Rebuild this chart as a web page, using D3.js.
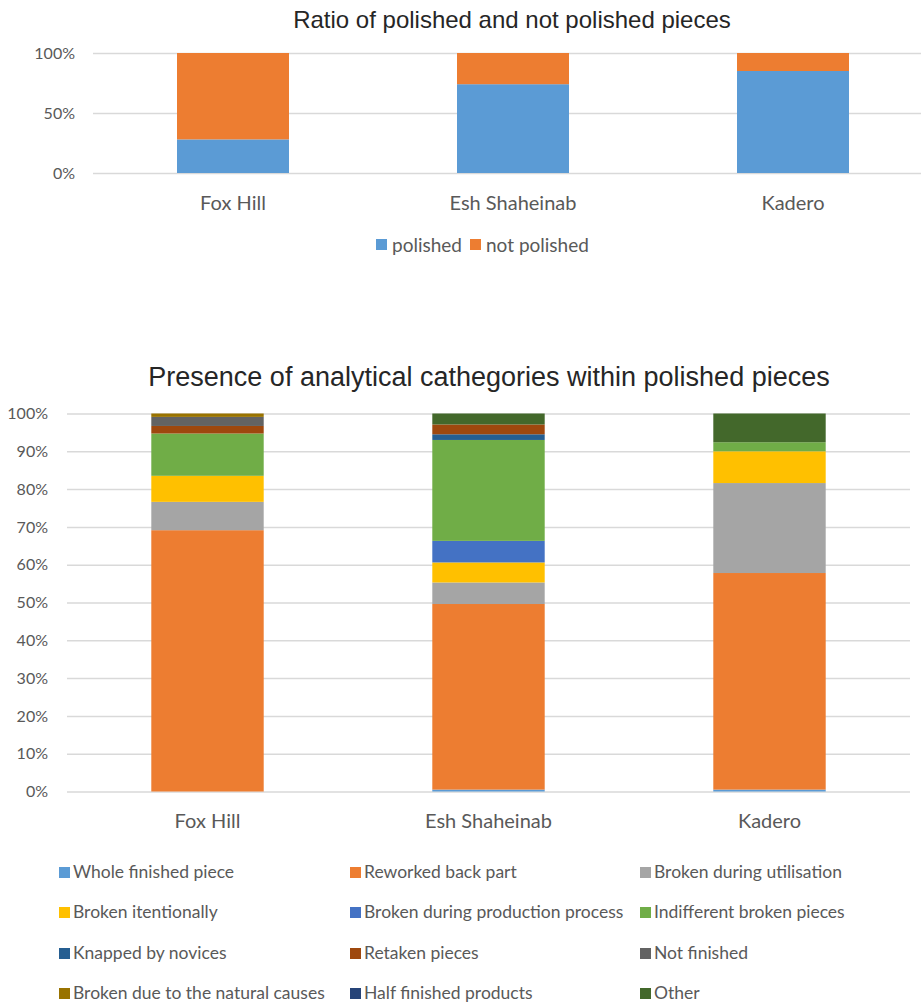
<!DOCTYPE html>
<html>
<head>
<meta charset="utf-8">
<script src="https://cdn.jsdelivr.net/npm/d3@7"></script>
<style>
  body { margin: 0; background: #fff; }
  .tick text { font-family: Lato, "Liberation Sans", sans-serif; fill: #595959; }
  .grid line { stroke: #d9d9d9; stroke-width: 1.5; }
</style>
</head>
<body>
<script>
// Sites shown in both charts
const sites = ["Fox Hill", "Esh Shaheinab", "Kadero"];

// Top chart: share of polished / not polished (%)
const polished = [28, 74, 85];
const notPolished = [72, 26, 15];
const topSeries = ["polished", "not polished"];
const topColors = ["#5b9bd5", "#ed7d31"];

// Bottom chart: analytical categories within polished pieces (%)
const categories = [
  "Whole finished piece", "Reworked back part", "Broken during utilisation",
  "Broken itentionally", "Broken during production process", "Indifferent broken pieces",
  "Knapped by novices", "Retaken pieces", "Not finished",
  "Broken due to the natural causes", "Half finished products", "Other"
];
const categoryColors = [
  "#5b9bd5", "#ed7d31", "#a5a5a5",
  "#ffc000", "#4472c4", "#70ad47",
  "#255e91", "#9e480e", "#636363",
  "#997300", "#264478", "#43682b"
];
const foxHill = [0, 69.2, 7.5, 6.9, 0, 11.2, 0, 2.0, 2.4, 0.9, 0, 0];
const eshShaheinab = [0.5, 49.1, 5.7, 5.3, 5.7, 26.7, 1.5, 2.6, 0, 0, 0, 2.9];
const kadero = [0.5, 57.3, 23.8, 8.4, 0, 2.4, 0, 0, 0, 0, 0, 7.6];

const topTicks = [0, 0.5, 1];
const bottomTicks = d3.range(0, 1.01, 0.1);

const width = 921;
const height = 1003;

const svg = d3.select("body")
  .append("svg")
    .attr("width", width)
    .attr("height", height);

function stackedChart(opts) {
  const g = svg.append("g");

  const x = d3.scaleBand()
    .domain(sites)
    .range([opts.left, opts.right]);

  const y = d3.scaleLinear()
    .domain([0, 1])
    .range([opts.bottom, opts.top]);

  // Title
  g.append("text")
    .attr("x", opts.titleX)
    .attr("y", opts.titleY)
    .attr("text-anchor", "middle")
    .style("font-family", "'Liberation Sans', Arial, sans-serif")
    .style("font-size", opts.titleSize + "px")
    .style("fill", "#262626")
    .text(opts.title);

  // Gridlines + percent labels
  g.append("g")
    .attr("class", "grid")
    .attr("transform", `translate(${opts.left},0)`)
    .call(d3.axisLeft(y)
      .tickValues(opts.ticks)
      .tickFormat(d3.format(".0%"))
      .tickSize(-(opts.right - opts.left))
      .tickPadding(opts.tickPad))
    .call(a => a.select(".domain").remove())
    .call(a => a.selectAll("text").style("font-size", "16px"));

  // Stacked bars
  const table = sites.map((s, i) => {
    const row = { site: s };
    opts.keys.forEach((k, j) => row[k] = opts.values[j][i]);
    return row;
  });
  const stacked = d3.stack()
    .keys(opts.keys)
    .offset(d3.stackOffsetExpand)(table);

  const bw = x.bandwidth() * 0.4;
  g.append("g")
    .selectAll("g")
    .data(stacked)
    .join("g")
      .attr("fill", (d, i) => opts.colors[i])
    .selectAll("rect")
    .data(d => d)
    .join("rect")
      .attr("x", d => x(d.data.site) + (x.bandwidth() - bw) / 2)
      .attr("width", bw)
      .attr("y", d => y(d[1]))
      .attr("height", d => Math.max(0, y(d[0]) - y(d[1])));

  // Category labels
  g.append("g")
    .attr("transform", `translate(0,${opts.bottom})`)
    .call(d3.axisBottom(x).tickSize(0).tickPadding(opts.catPad))
    .call(a => a.select(".domain").remove())
    .call(a => a.selectAll("text").style("font-size", "20px"));

  return g;
}

stackedChart({
  title: "Ratio of polished and not polished pieces",
  titleX: 512, titleY: 28, titleSize: 24,
  left: 93, right: 933, top: 53, bottom: 173,
  ticks: topTicks, tickPad: 18, catPad: 23,
  keys: topSeries,
  values: [polished, notPolished],
  colors: topColors
});

stackedChart({
  title: "Presence of analytical cathegories within polished pieces",
  titleX: 489, titleY: 386, titleSize: 27,
  left: 67, right: 910, top: 413.5, bottom: 791.5,
  ticks: bottomTicks, tickPad: 19, catPad: 22,
  keys: categories,
  values: d3.transpose([foxHill, eshShaheinab, kadero]),
  colors: categoryColors
});

// Top legend
const topLegend = svg.append("g")
  .style("font-family", "Lato, 'Liberation Sans', sans-serif")
  .style("font-size", "19px")
  .style("fill", "#595959");
const topLegendX = [376, 470];
topSeries.forEach((name, i) => {
  topLegend.append("rect")
    .attr("x", topLegendX[i]).attr("y", 239)
    .attr("width", 11).attr("height", 11)
    .attr("fill", topColors[i]);
  topLegend.append("text")
    .attr("x", topLegendX[i] + 16).attr("y", 245)
    .attr("dy", "0.35em")
    .text(name);
});

// Bottom legend: 3 columns x 4 rows
const bottomLegend = svg.append("g")
  .style("font-family", "Lato, 'Liberation Sans', sans-serif")
  .style("font-size", "17.5px")
  .style("fill", "#595959");
const colX = [59, 350, 640];
const rowY = [872, 912, 953, 993];
categories.forEach((name, i) => {
  const cx = colX[i % 3];
  const cy = rowY[Math.floor(i / 3)];
  bottomLegend.append("rect")
    .attr("x", cx).attr("y", cy - 5)
    .attr("width", 11).attr("height", 11)
    .attr("fill", categoryColors[i]);
  bottomLegend.append("text")
    .attr("x", cx + 14).attr("y", cy)
    .attr("dy", "0.35em")
    .text(name);
});
</script>
</body>
</html>
